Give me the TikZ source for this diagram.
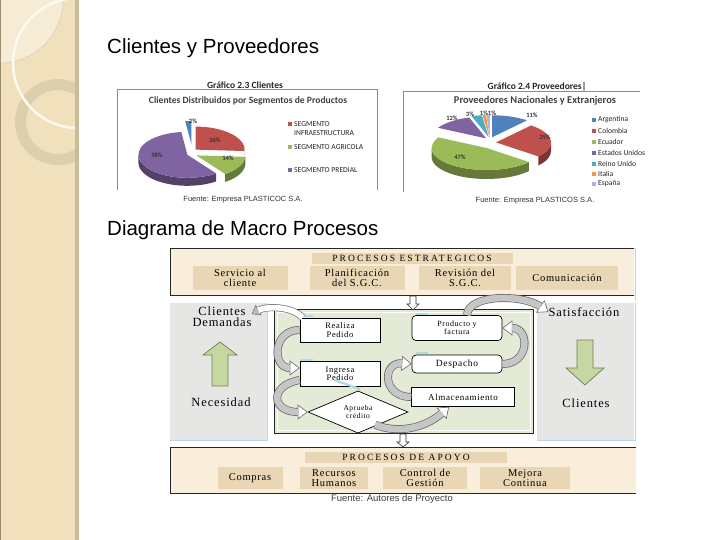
\documentclass[tikz,border=0pt]{standalone}
\usepackage{fontspec}
\setmainfont{Liberation Serif}
\newfontfamily\arialf{Liberation Sans}
\newfontfamily\calf{Carlito}
\newfontfamily\dfn[LetterSpace=7]{Liberation Serif}
\newfontfamily\dfw[LetterSpace=22]{Liberation Serif}
\usetikzlibrary{arrows.meta,shapes.geometric}
\definecolor{side}{HTML}{F0E1BC}
\definecolor{sidedk}{HTML}{CBBB98}
\definecolor{sideln}{HTML}{9C8C6C}
\definecolor{ringc}{HTML}{DDCFAD}
\definecolor{lightc}{HTML}{F6ECD6}
\definecolor{pnl}{HTML}{F8EEDB}
\definecolor{pbox}{HTML}{E8D6B4}
\definecolor{gryp}{HTML}{E6E6E4}
\definecolor{cpn}{HTML}{E3EAD6}
\definecolor{blu}{HTML}{BDD5E6}
\definecolor{garr}{HTML}{C6D7A2}
\definecolor{garrd}{HTML}{6F7D55}
\definecolor{cR}{HTML}{C0504D}
\definecolor{cG}{HTML}{9BBB59}
\definecolor{cP}{HTML}{8064A2}
\definecolor{cB}{HTML}{4F81BD}
\definecolor{cT}{HTML}{4BACC6}
\definecolor{cO}{HTML}{F79646}
\definecolor{cL}{HTML}{A5B9D9}
\definecolor{ctx}{HTML}{404040}
\newcommand\ptop[5]{\fill[#3] ({#4},{#5}) -- ({#4+\prx*cos(#1)},{#5+\pry*sin(#1)}) arc[start angle=#1,end angle=#2,x radius=\prx,y radius=\pry] -- cycle;}
\newcommand\pside[5]{\fill[#3] ({#4+\prx*cos(#1)},{#5+\pry*sin(#1)}) arc[start angle=#1,end angle=#2,x radius=\prx,y radius=\pry] -- ++(0,-\pth) arc[start angle=#2,end angle=#1,x radius=\prx,y radius=\pry] -- cycle;}
\tikzset{
  ttl/.style={anchor=base west, inner sep=0, font=\arialf\fontsize{20.5}{22}\selectfont},
  gtitle/.style={inner sep=0, font=\calf\bfseries\fontsize{9.5}{10}\selectfont, text=black!85},
  ctitle/.style={inner sep=0, font=\calf\bfseries\fontsize{9.6}{10}\selectfont, text=ctx},
  fuente/.style={inner sep=0, font=\arialf\fontsize{7.5}{8}\selectfont, text=black!80},
  pct/.style={inner sep=0, font=\calf\bfseries\fontsize{6.5}{7}\selectfont, text=black!80},
  leg/.style={anchor=west, inner sep=0, align=left, font=\calf\fontsize{7.6}{9}\selectfont, text=black!85},
  frm/.style={draw=black!45, line width=.6},
  ptitle/.style={fill=pbox, inner sep=0, minimum height=11, font=\dfw\fontsize{9.5}{9.5}\selectfont},
  sbox/.style={fill=pbox, inner sep=0, minimum height=24, align=center, font=\dfn\fontsize{10.5}{10}\selectfont},
  wbox/.style={draw=black, fill=white, line width=.7, inner sep=0, align=center, font=\dfn\fontsize{8.5}{8.5}\selectfont},
  ptext/.style={inner sep=0, align=center, font=\dfn\fontsize{12.5}{11}\selectfont},
  rib/.style={line width=8pt, draw=black!60, -{Triangle[length=10pt,width=15pt,fill=white,line width=.6pt]},
     postaction={draw=gray!45, line width=6.6pt, arrows=-, shorten >=9.5pt}},
  ribw/.style={line width=7pt, draw=black!55, -{Triangle[length=8pt,width=12pt,fill=gray!55,line width=.5pt]},
     postaction={draw=white, line width=5.6pt, arrows=-, shorten >=7.5pt}},
  garrow/.style={fill=garr, draw=garrd, line width=.7},
  dmark/.style={fill=white, draw=black!80, line width=.6},
  glow/.style={draw=cT!45, line width=2.2},
}
\begin{document}
\begin{tikzpicture}[x=1pt,y=-1pt]
\useasboundingbox (0,0) rectangle (720,540);
\fill[white] (0,0) rectangle (720,540);
% ---- sidebar
\fill[side] (0,0) rectangle (78,540);
\begin{scope}
  \clip (0,0) rectangle (76,540);
  \fill[lightc] (0,0) circle[radius=63];
  \draw[sideln!50, line width=.4] (0,0) circle[radius=63];
  \draw[ringc, line width=11] (58,122) circle[radius=37.5];
  \draw[white!80!side, line width=2.5] (78,63) circle[radius=65];
\end{scope}
\fill[sidedk] (75,0) rectangle (79,540);
\draw[sideln, line width=1] (0.5,0) -- (0.5,540);
% ---- titles
\node[ttl] (t1) at (107,54) {Clientes y Proveedores};
\node[ttl] (t2) at (107,236) {Diagrama de Macro Procesos};
% ---- left chart
\node[gtitle] (g23) at (245,85) {Gráfico 2.3 Clientes};
\draw[frm] (117,190) -- (117,89) -- (377,89) -- (377,190);
\node[ctitle] (ct1) at (248,101) {Clientes Distribuidos por Segmentos de Productos};
\begin{scope}[shift={(192,153)},y=1pt]
  \def\prx{49}\def\pry{23}\def\pth{8}
  \ptop{90}{97.2}{cB}{-0.6}{9}
  \pside{-3.6}{0}{cR!65!black}{3.6}{3.4}
  \ptop{-3.6}{90}{cR}{3.6}{3.4}
  \pside{180}{306}{cP!65!black}{-4.6}{-1.8}
  \ptop{97.2}{306}{cP}{-4.6}{-1.8}
  \pside{-54}{-3.6}{cG!65!black}{4.4}{-2.4}
  \ptop{-54}{-3.6}{cG}{4.4}{-2.4}
\end{scope}
\node[pct] (p2) at (193,121) {2\%};
\node[pct] (p26) at (215,140) {26\%};
\node[pct] (p14) at (228,158) {14\%};
\node[pct] (p58) at (157,155) {58\%};
\fill[cR] (288,122) rectangle ++(4,4);
\node[leg] (l1) at (294,129) {SEGMENTO\\INFRAESTRUCTURA};
\fill[cG] (288,145) rectangle ++(4,4);
\node[leg] (l2) at (294,147) {SEGMENTO AGRICOLA};
\fill[cP] (288,168) rectangle ++(4,4);
\node[leg] (l3) at (294,170) {SEGMENTO PREDIAL};
\node[fuente] (f1) at (243,200) {Fuente: Empresa PLASTICOC S.A.};
% ---- right chart
\node[gtitle] (g24) at (537,87) {Gráfico 2.4 Proveedores|};
\draw[frm] (403,192) -- (403,91) -- (640,91);
\node[ctitle, font=\calf\bfseries\fontsize{10.4}{11}\selectfont] (ct2) at (535,101) {Proveedores Nacionales y Extranjeros};
\begin{scope}[shift={(490,143)},y=1pt]
  \def\prx{55}\def\pry{22}\def\pth{9}
  \ptop{90}{93.6}{cL}{-0.2}{6}
  \ptop{93.6}{97.2}{cO}{-0.6}{6}
  \ptop{97.2}{108}{cT}{-1.3}{5.9}
  \ptop{50.4}{90}{cB}{2}{5.7}
  \ptop{108}{151.2}{cP}{-3.8}{4.6}
  \pside{-39.6}{0}{cR!65!black}{6}{0.6}
  \ptop{-39.6}{50.4}{cR}{6}{0.6}
  \pside{180}{320.4}{cG!65!black}{-3.4}{-5}
  \ptop{151.2}{320.4}{cG}{-3.4}{-5}
\end{scope}
\node[pct] (q11) at (532,115) {11\%};
\node[pct] (q25) at (545,137) {25\%};
\node[pct] (q47) at (460,157) {47\%};
\node[pct] (q12) at (452,118) {12\%};
\node[pct] (q3) at (470,114) {3\%};
\node[pct] (q1a) at (484,113) {1\%};
\node[pct] (q1b) at (492,113) {1\%};
\foreach \c/\t/\y in {cB/Argentina/120, cR/Colombia/131, cG/Ecuador/142, cP/Estados Unidos/153, cT/Reino Unido/164, cO/Italia/174, cL/España/184}{
  \fill[\c] (592,\y-2) rectangle ++(4,4);
  \node[leg] at (598,\y) {\t};
}
\node[fuente] (f2) at (535,201) {Fuente: Empresa PLASTICOS S.A.};
% ---- strategic band
\fill[pnl] (170,248) rectangle (634,295);
\draw[black!85, line width=.9] (634,248) -- (170,248) -- (170,295) -- (634,295);
\draw[blu, line width=1.4] (635.5,248) -- (635.5,300);
\node[ptitle, minimum width=201] (pe) at (412,258) {PROCESOS ESTRATEGICOS};
\node[sbox, minimum width=95] (sc) at (240,278) {Servicio al\\cliente};
\node[sbox, minimum width=95] (pl) at (357,278) {Planificación\\del S.G.C.};
\node[sbox, minimum width=92] (rv) at (465,278) {Revisión del\\S.G.C.};
\node[sbox, minimum width=102] (cm) at (567,278) {Comunicación};
% ---- middle band
\fill[gryp] (170,303) rectangle (267,440);
\draw[blu, line width=1.4] (267.5,303) -- (267.5,440.5) -- (170,440.5);
\fill[gryp] (537,303) rectangle (634,440);
\draw[blu, line width=1.4] (635.5,303) -- (635.5,440.5) -- (537,440.5);
\fill[cpn] (274,309) rectangle (533,433);
\draw[black!85, line width=.9] (274,309) rectangle (533,433);
\draw[white, line width=1] (277,312) rectangle (530,430);
% markers between bands
\draw[dmark] (410,296) -- (416,296) -- (416,304) -- (419,304) -- (413,310) -- (407,304) -- (410,304) -- cycle;
\draw[dmark] (400,434) -- (406,434) -- (406,442) -- (409,442) -- (403,447) -- (397,442) -- (400,442) -- cycle;
% left panel
\node[ptext] (cd) at (222,317) {Clientes\\Demandas};
\node[ptext] (ne) at (221,402) {Necesidad};
\draw[garrow] (212,386) -- (212,355) -- (203,355) -- (220,342) -- (237,355) -- (228,355) -- (228,386) -- cycle;
% right panel
\node[ptext] (sa) at (584,312) {Satisfacción};
\node[ptext] (cl) at (586,403) {Clientes};
\draw[garrow] (577,340) -- (593,340) -- (593,368) -- (604,368) -- (585,385) -- (566,368) -- (577,368) -- cycle;
% center boxes
\node[wbox, minimum width=80, minimum height=24] (rp) at (340,330) {Realiza\\Pedido};
\node[wbox, minimum width=80, minimum height=25] (ip) at (340,374) {Ingresa\\Pedido};
\node[diamond, draw=black, fill=white, line width=.7, inner sep=0, minimum width=100, minimum height=34, align=center, font=\dfn\fontsize{7.5}{8}\selectfont] (ac) at (358,412) {Aprueba\\crédito};
\node[wbox, rounded corners=4, minimum width=90, minimum height=25, font=\dfn\fontsize{8}{8.5}\selectfont] (pf) at (457,328) {Producto y\\factura};
\node[wbox, rounded corners=4, minimum width=90, minimum height=18, font=\dfn\fontsize{9.5}{9}\selectfont] (de) at (457,364) {Despacho};
\node[wbox, minimum width=103, minimum height=19, font=\dfn\fontsize{9}{9}\selectfont] (al) at (463,397) {Almacenamiento};
% light glows on box corners
\draw[glow] ([xshift=1pt,yshift=1.5pt]rp.north west) -- ++(12,0);
\draw[glow] ([xshift=1pt,yshift=1.5pt]ip.north west) -- ++(12,0);
\draw[glow] ([xshift=4pt,yshift=1.5pt]pf.north west) -- ++(12,0);
\draw[glow] ([xshift=4pt,yshift=1.5pt]de.north west) -- ++(12,0);
\draw[glow] ([xshift=2pt,yshift=1.5pt]ac.north) -- ++(-26,-9);
% ribbons
\draw[ribw] ([xshift=3pt]rp.north west) .. controls (292,306) and (266,306) .. ([yshift=3pt]cd.east);
\draw[rib] (rp.west) .. controls (272,330) and (272,368) .. ([yshift=6pt]ip.west);
\draw[rib] ([yshift=-6pt]ip.west) .. controls (268,386) and (272,412) .. (ac.west);
\draw[rib] ([xshift=-8pt,yshift=-2pt]ac.south east) .. controls (398,434) and (425,428) .. ([xshift=-14pt]al.south);
\draw[rib] (al.west) .. controls (382,397) and (382,362) .. (de.west);
\draw[rib] (de.east) .. controls (530,364) and (530,328) .. (pf.east);
\draw[rib] ([xshift=10pt]pf.north) .. controls (468,294) and (522,294) .. (sa.west);
% ---- support band
\fill[pnl] (170,447) rectangle (636,493);
\draw[black!85, line width=.9] (636,447) -- (170,447) -- (170,493) -- (636,493);
\node[ptitle, minimum width=202] (pa) at (406,457.5) {PROCESOS DE APOYO};
\node[sbox, minimum width=65, minimum height=22] (co) at (250,478) {Compras};
\node[sbox, minimum width=68, minimum height=22] (rh) at (334,478) {Recursos\\Humanos};
\node[sbox, minimum width=84, minimum height=22] (cg) at (425,478) {Control de\\Gestión};
\node[sbox, minimum width=90, minimum height=22] (mc) at (525,478) {Mejora\\Continua};
\node[inner sep=0, font=\arialf\fontsize{9.5}{10}\selectfont, text=black!75] (fa) at (392,499) {Fuente: Autores de Proyecto};
\end{tikzpicture}
\end{document}
